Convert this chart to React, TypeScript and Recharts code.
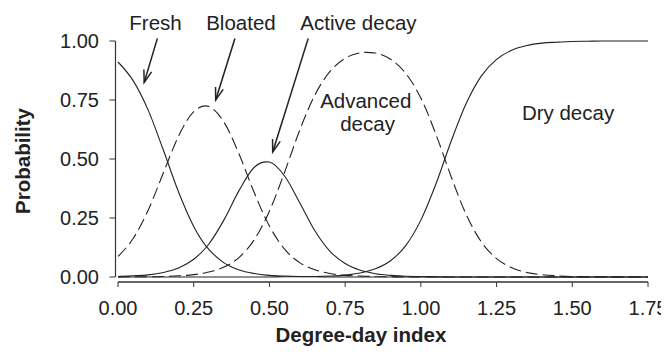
import React from 'react';
import { LineChart, Line, XAxis, YAxis, ReferenceLine, ReferenceDot } from 'recharts';

const degreeDay = [0, 0.05, 0.1, 0.15, 0.2, 0.25, 0.29, 0.3, 0.35, 0.4, 0.45, 0.49, 0.5, 0.55, 0.6, 0.65, 0.7, 0.75, 0.8, 0.82, 0.85, 0.9, 0.95, 1.0, 1.05, 1.1, 1.15, 1.2, 1.25, 1.3, 1.35, 1.4, 1.45, 1.5, 1.55, 1.6, 1.65, 1.7, 1.75];
const fresh = [0.911, 0.832, 0.706, 0.537, 0.36, 0.214, 0.132, 0.117, 0.06, 0.03, 0.015, 0.008, 0.007, 0.004, 0.002, 0.001, 0, 0, 0, 0, 0, 0, 0, 0, 0, 0, 0, 0, 0, 0, 0, 0, 0, 0, 0, 0, 0, 0, 0];
const bloated = [0.087, 0.163, 0.284, 0.442, 0.597, 0.701, 0.725, 0.722, 0.656, 0.52, 0.357, 0.241, 0.216, 0.118, 0.061, 0.031, 0.015, 0.007, 0.004, 0.003, 0.002, 0.001, 0, 0, 0, 0, 0, 0, 0, 0, 0, 0, 0, 0, 0, 0, 0, 0, 0];
const activeDecay = [0.002, 0.005, 0.009, 0.019, 0.038, 0.075, 0.124, 0.14, 0.242, 0.367, 0.465, 0.488, 0.487, 0.428, 0.315, 0.196, 0.109, 0.057, 0.029, 0.022, 0.014, 0.007, 0.003, 0.002, 0.001, 0, 0, 0, 0, 0, 0, 0, 0, 0, 0, 0, 0, 0, 0];
const advancedDecay = [0, 0.001, 0.001, 0.002, 0.005, 0.01, 0.018, 0.021, 0.042, 0.083, 0.158, 0.251, 0.279, 0.444, 0.622, 0.771, 0.871, 0.927, 0.95, 0.952, 0.949, 0.923, 0.863, 0.758, 0.604, 0.425, 0.264, 0.148, 0.078, 0.039, 0.019, 0.01, 0.005, 0.002, 0.001, 0.001, 0, 0, 0];
const dryDecay = [0, 0, 0, 0, 0, 0, 0, 0, 0, 0, 0, 0, 0, 0.001, 0.001, 0.002, 0.004, 0.008, 0.017, 0.023, 0.035, 0.069, 0.133, 0.241, 0.395, 0.575, 0.736, 0.852, 0.922, 0.961, 0.981, 0.991, 0.995, 0.998, 0.999, 1, 1, 1, 1];

const xTicks = [0, 0.25, 0.5, 0.75, 1.0, 1.25, 1.5, 1.75];
const yTicks = [0, 0.25, 0.5, 0.75, 1.0];

// annotation positions in data units
const arrows = [
  { from: { x: 0.13, y: 1.011 }, to: { x: 0.0865, y: 0.824 } },
  { from: { x: 0.386, y: 1.011 }, to: { x: 0.3226, y: 0.75 } },
  { from: { x: 0.628, y: 1.011 }, to: { x: 0.5108, y: 0.53 } },
];
const stageLabels = [
  { text: 'Fresh', x: 0.1238, y: 1.045 },
  { text: 'Bloated', x: 0.406, y: 1.045 },
  { text: 'Active decay', x: 0.794, y: 1.045 },
  { text: 'Advanced', x: 0.818, y: 0.716 },
  { text: 'decay', x: 0.824, y: 0.619 },
  { text: 'Dry decay', x: 1.486, y: 0.665 },
];

const data = degreeDay.map((x, i) => ({
  x,
  fresh: fresh[i],
  bloated: bloated[i],
  active: activeDecay[i],
  advanced: advancedDecay[i],
  dry: dryDecay[i],
}));

const FONT = '"Liberation Sans", Arial, Helvetica, sans-serif';
const INK = '#222';
const FS = 20;

const ArrowShape = (p: any) => {
  const { x1, y1, x2, y2 } = p;
  const ang = Math.atan2(y2 - y1, x2 - x1);
  const len = 13;
  const spread = Math.PI / 10;
  const a1 = ang + Math.PI - spread;
  const a2 = ang + Math.PI + spread;
  const pts = `${x2 + len * Math.cos(a1)},${y2 + len * Math.sin(a1)} ${x2},${y2} ${x2 + len * Math.cos(a2)},${y2 + len * Math.sin(a2)}`;
  return (
    <g>
      <line x1={x1} y1={y1} x2={x2} y2={y2} stroke={INK} strokeWidth={1.5} />
      <polyline points={pts} fill="none" stroke={INK} strokeWidth={1.5} />
    </g>
  );
};

const fmt = (v: number) => v.toFixed(2);

export default function App() {
  return (
    <div style={{ width: 661, height: 339, overflow: 'visible' }}>
      <LineChart
        width={661}
        height={339}
        data={data}
        margin={{ top: 33, right: 21, left: 0, bottom: 0 }}
        style={{ fontFamily: FONT, overflow: 'visible' }}
      >
        <XAxis
          type="number"
          dataKey="x"
          domain={[0, 1.75]}
          ticks={xTicks}
          tickFormatter={fmt}
          height={70}
          tickSize={5}
          tickMargin={19}
          axisLine={{ stroke: '#333', strokeWidth: 1.3, transform: 'translate(0,5)' }}
          tickLine={{ stroke: '#333', strokeWidth: 1, transform: 'translate(0,5)' }}
          tick={{ fill: INK, fontSize: FS, fontFamily: FONT }}
          label={{
            content: (props: any) => {
              const vb = props.viewBox;
              return (
                <text
                  x={vb.x + (0.802 / 1.75) * vb.width}
                  y={vb.y + 65}
                  textAnchor="middle"
                  fill={INK}
                  fontSize={20.5}
                  fontWeight="bold"
                  fontFamily={FONT}
                >
                  Degree-day index
                </text>
              );
            },
          }}
        />
        <YAxis
          type="number"
          domain={[0, 1]}
          ticks={yTicks}
          tickFormatter={fmt}
          width={110}
          tickSize={6}
          tickMargin={13}
          axisLine={{ stroke: '#333', strokeWidth: 1.2, transform: 'translate(-2.5,0)' }}
          tickLine={{ stroke: '#333', strokeWidth: 1, transform: 'translate(-2.5,0)' }}
          tick={{ fill: INK, fontSize: FS, fontFamily: FONT }}
          label={{
            content: (props: any) => {
              const vb = props.viewBox;
              const cx = vb.x + 21.7;
              const cy = vb.y + vb.height / 2 + 2;
              return (
                <text
                  x={cx}
                  y={cy}
                  transform={`rotate(-90, ${cx}, ${cy})`}
                  textAnchor="middle"
                  fill={INK}
                  fontSize={20.5}
                  fontWeight="bold"
                  fontFamily={FONT}
                >
                  Probability
                </text>
              );
            },
          }}
        />
        <Line type="monotone" dataKey="fresh" stroke={INK} strokeWidth={1.1} dot={false} isAnimationActive={false} />
        <Line type="monotone" dataKey="bloated" stroke={INK} strokeWidth={1.1} strokeDasharray="12 5" dot={false} isAnimationActive={false} />
        <Line type="monotone" dataKey="active" stroke={INK} strokeWidth={1.1} dot={false} isAnimationActive={false} />
        <Line type="monotone" dataKey="advanced" stroke={INK} strokeWidth={1.1} strokeDasharray="12 5" dot={false} isAnimationActive={false} />
        <Line type="monotone" dataKey="dry" stroke={INK} strokeWidth={1.1} dot={false} isAnimationActive={false} />
        {arrows.map((a, i) => (
          <ReferenceLine
            key={`arrow-${i}`}
            segment={[a.from, a.to]}
            ifOverflow="visible"
            shape={ArrowShape}
          />
        ))}
        {stageLabels.map((l, i) => (
          <ReferenceDot
            key={`lab-${i}`}
            x={l.x}
            y={l.y}
            r={0}
            ifOverflow="visible"
            shape={(p: any) => (
              <text x={p.cx} y={p.cy} textAnchor="middle" fill={INK} fontSize={20.5} fontFamily={FONT}>
                {l.text}
              </text>
            )}
          />
        ))}
      </LineChart>
    </div>
  );
}
